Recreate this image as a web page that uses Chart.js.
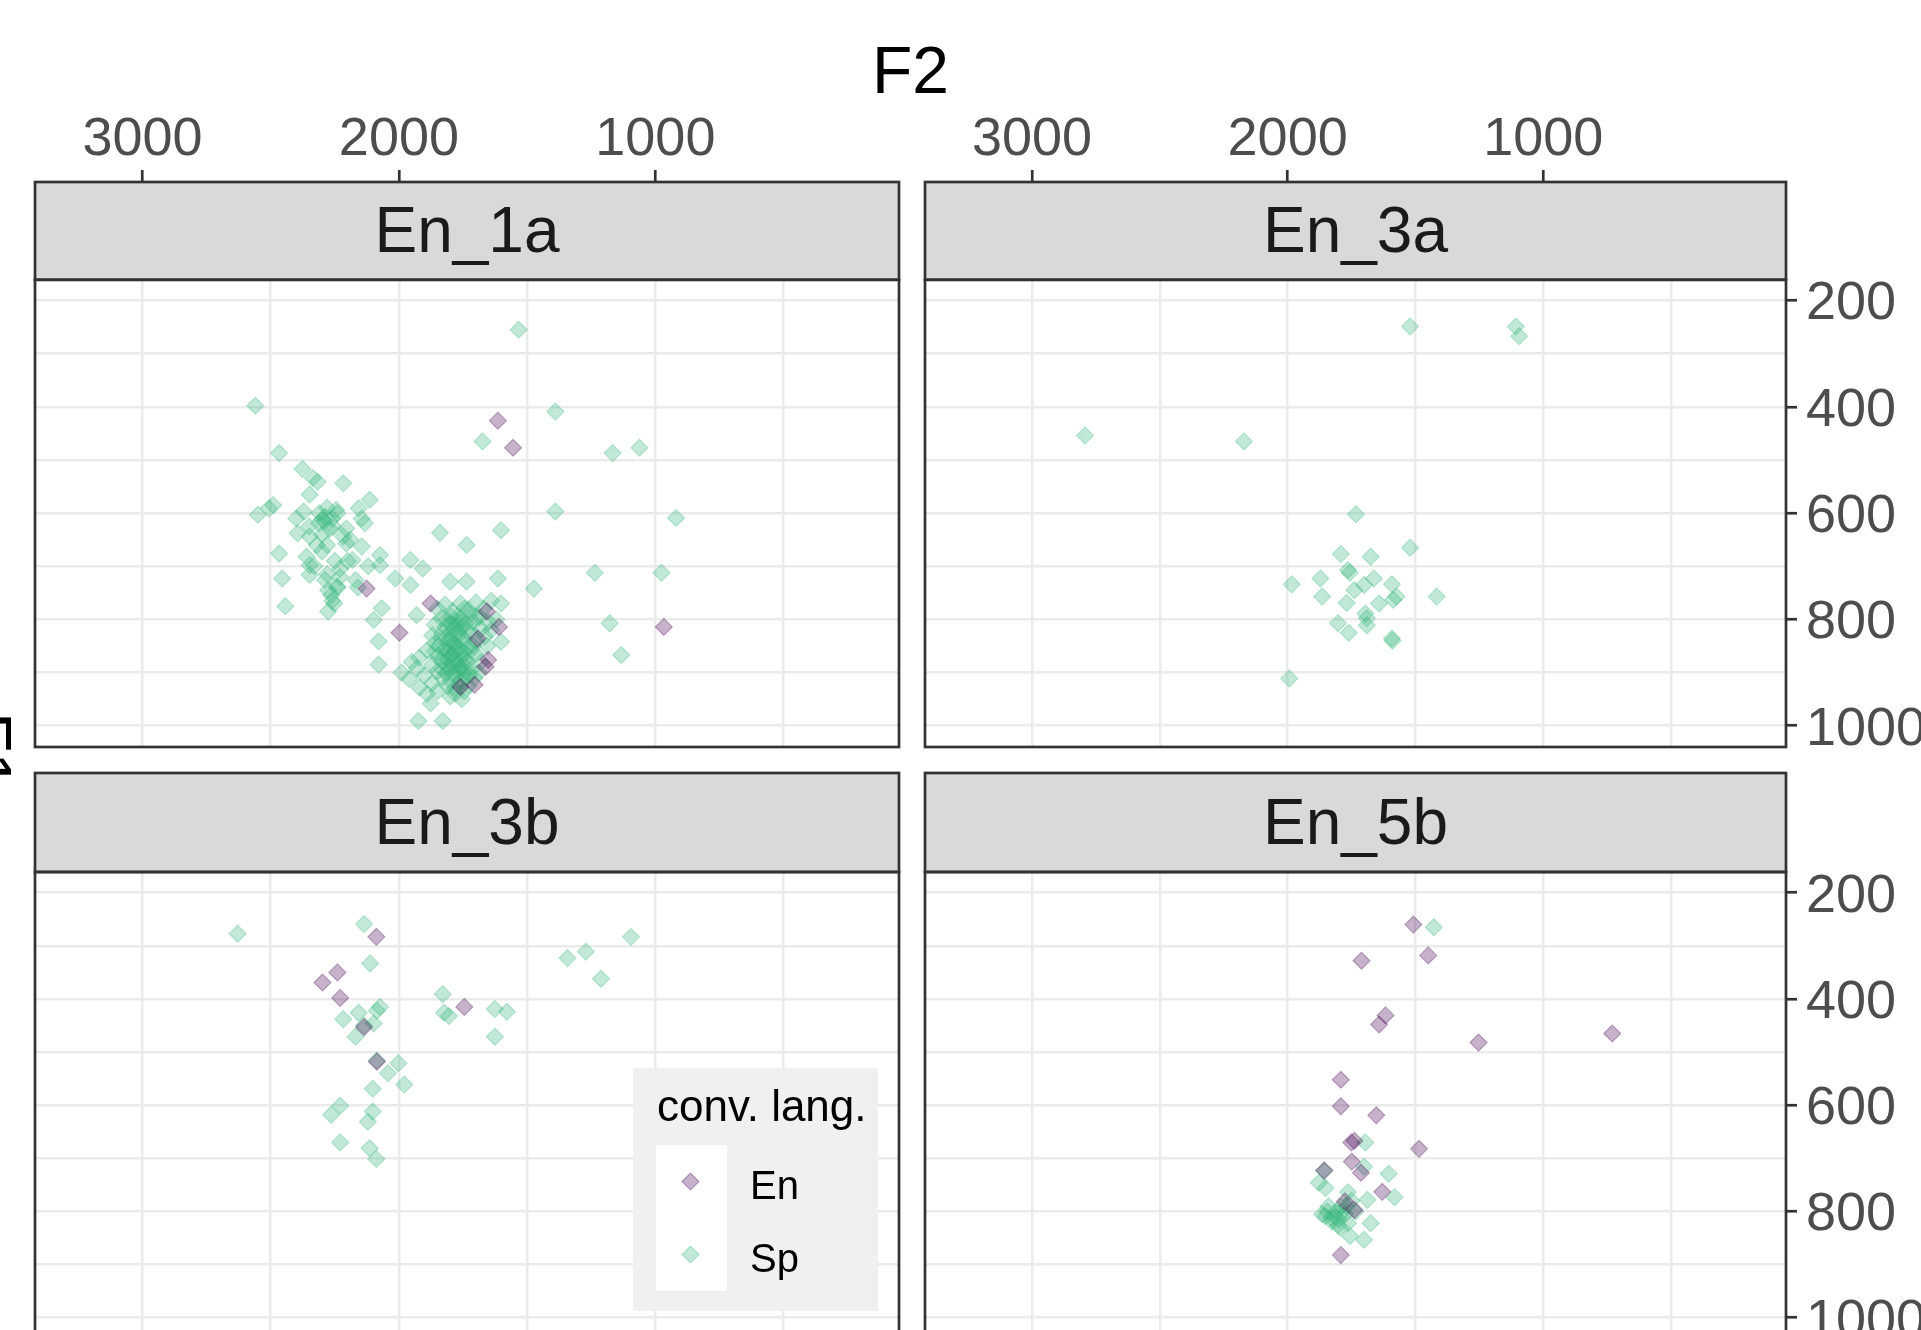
<!DOCTYPE html>
<html>
<head>
<meta charset="utf-8">
<script src="https://cdn.jsdelivr.net/npm/chart.js"></script>
<style>
  html, body { margin: 0; padding: 0; background: #fff; width: 1921px; height: 1330px; overflow: hidden; }
  .panel { position: absolute; }
  .lbl { position: absolute; font-family: "Liberation Sans", Arial, sans-serif; color: #000; white-space: nowrap; line-height: 1; font-size: 66px; }
</style>
</head>
<body>
<div class="lbl" style="left:0; top:37px; width:1821px; text-align:center;">F2</div>
<div class="lbl" style="left:21px; top:712px; transform: rotate(90deg); transform-origin: 0 0; z-index: 5;">F1</div>

<div class="panel" style="left:0; top:0;"><canvas id="p1" width="912" height="760"></canvas></div>
<div class="panel" style="left:912px; top:0;"><canvas id="p2" width="1009" height="760"></canvas></div>
<div class="panel" style="left:0; top:760px;"><canvas id="p3" width="912" height="600"></canvas></div>
<div class="panel" style="left:912px; top:760px;"><canvas id="p4" width="1009" height="600"></canvas></div>

<script>
"use strict";

const facets = ['En_1a', 'En_3a', 'En_3b', 'En_5b'];
const groups = ['En', 'Sp'];
const legendTitle = 'conv. lang.';

const f2Grid = [500, 1000, 1500, 2000, 2500, 3000];
const f2Labels = [1000, 2000, 3000];
const f1Grid = [200, 300, 400, 500, 600, 700, 800, 900, 1000];
const f1Labels = [200, 400, 600, 800, 1000];
const f2Range = [50, 3419];
const f1Range = [161, 1040];

// points are [F2, F1]
const en1aEn = [[1614,426],[1555,477],[2126,742],[1998,825],[967,814],[1876,770],[1657,785],[1610,814],
    [1652,876],[1662,889],[1705,923],[1760,927],[1693,836]];
const en1aSp = [[1533,255],[2560,398],[1390,409],[1674,465],[1167,487],[1062,477],[2467,487],
    [2376,517],[2336,534],[2317,541],[2217,544],[2348,565],[2114,575],[2157,591],[2490,585],[2507,591],
    [2550,603],[2371,597],[2288,607],[2300,612],[2312,619],[2245,594],[2145,610],[2133,619],[2205,629],
    [2255,626],[2395,638],[2348,644],[2217,644],[2467,676],[2360,682],[2300,672],[2145,663],[2205,657],
    [2074,679],[2181,688],[2348,698],[1955,688],[1907,704],[2074,698],[2455,723],[2348,716],[2288,726],
    [2229,720],[2169,726],[2014,723],[1955,735],[2241,738],[2264,754],[2276,745],[2330,700],[2280,660],
    [2240,600],[2190,650],[2120,700],[2400,610],
    [2290,615],[2270,630],[2300,640],[2310,600],[2260,610],[2250,690],[2230,705],[2280,715],[2320,660],
    [2350,625],[2240,740],[2260,765],[2200,690],[2160,740],[2280,590],
    [1800,729],[1736,729],[1614,723],[1840,637],[1602,632],[1736,660],[1390,597],[919,609],[1474,742],
    [1236,712],[976,712],[2443,775],[2276,785],[2252,770],[2067,779],[2098,801],[1931,792],[1602,770],
    [1178,807],[1133,867],[2079,841],[2079,885],[1602,842],[1876,958],[1924,991],[1829,991],
    [1640,765],[1700,768],[1760,770],[1820,772],[1670,780],[1730,782],[1790,785],[1850,780],[1700,795],
    [1760,798],[1815,800],[1650,805],[1740,808],[1790,812],[1860,810],[1680,818],[1720,822],[1770,825],
    [1830,826],[1750,835],[1800,838],[1700,840],[1665,832],
    [1860,845],[1780,848],[1730,852],[1820,855],[1890,858],[1760,862],[1700,865],[1800,868],[1850,870],
    [1920,872],[1740,875],[1780,878],[1830,880],[1680,880],
    [1870,885],[1810,888],[1760,890],[1930,892],[1720,895],[1850,898],[1790,902],[1900,905],[1830,910],
    [1960,912],[1760,915],[1870,920],[1810,925],[1920,928],[1850,935],[1890,940],[1780,940],[1990,900],
    [1950,880],
    [1760,805],[1775,812],[1790,820],[1805,828],[1770,832],[1755,842],[1785,845],[1800,852],[1815,860],
    [1765,855],[1745,862],[1790,865],[1810,875],[1770,885],[1795,890],[1750,900],[1775,905],[1740,910],
    [1800,915],[1765,925],[1785,930],[1745,935],[1725,905],[1735,880],[1720,860],[1710,850],[1735,820],
    [1755,815],[1780,800],[1800,808],[1820,815],[1835,835],[1845,850],[1825,870],[1810,840],[1780,860],
    [1760,875],[1790,880],[1815,900],[1830,895],[1740,890],[1770,895],[1755,950],[1800,945],[1730,925],
    [1705,910],[1690,900],[1860,860],[1710,805],[1725,790],[1745,780],[1795,795],[1835,798],[1870,830],
    [1655,850],[1640,820],[1620,800],[1685,795]];

const en3aEn = [];
const en3aSp = [[1521,249],[1107,249],[1094,267],[2793,454],[2171,465],[1733,602],[1521,665],[1792,677],
    [1675,682],[1764,707],[1757,712],[1872,723],[1663,723],[1984,734],[1592,734],[1701,735],[1739,745],
    [1865,757],[1574,757],[1587,763],[1417,757],[1769,769],[1642,770],[1696,789],[1690,798],[1803,807],
    [1690,811],[1761,825],[1592,836],[1590,840],[1994,911]];

const en3bEn = [[2088,283],[2240,350],[2298,369],[2229,398],[1745,415],[2136,453],[2086,518]];
const en3bSp = [[2629,277],[2136,259],[2112,333],[1095,283],[1271,311],[1343,323],[1212,362],[1829,391],
    [1626,419],[1579,424],[1824,426],[1805,432],[1626,471],[2074,415],[2086,422],[2157,426],[2217,438],
    [2098,446],[2136,450],[2169,471],[2086,516],[2002,521],[2043,540],[1979,561],[2102,569],[2229,601],
    [2264,618],[2102,612],[2121,631],[2229,670],[2114,681],[2088,701]];

const en5bEn = [[1508,260],[1711,328],[1450,318],[1617,431],[1642,448],[1253,482],[730,465],[1792,552],
    [1792,602],[1653,619],[1486,682],[1739,667],[1751,670],[1749,706],[1857,723],[1713,727],[1630,763],
    [1739,797],[1776,781],[1792,882]];
const en5bSp = [[1428,265],[1696,670],[1857,723],[1701,716],[1605,729],[1878,746],[1852,756],[1582,773],
    [1688,778],[1764,764],[1852,809],[1827,819],[1865,805],[1802,826],[1764,822],[1675,822],[1756,846],
    [1701,853],[1790,790],[1810,800],[1775,805],[1840,790],
    [1800,815],[1815,810],[1830,812],[1795,830],[1785,800],[1770,790],[1750,780],[1735,800],[1845,800]];

const groupColors = ['rgba(68, 1, 84, 0.3)', 'rgba(53, 183, 121, 0.3)'];

const fontFamily = '"Liberation Sans", Arial, sans-serif';
Chart.defaults.font.family = fontFamily;

// grey strip behind the facet title, borders round strip and panel
const stripPlugin = {
    id: 'strip',
    beforeDraw(chart) {
        const t = chart.titleBlock;
        const ctx = chart.ctx;
        ctx.save();
        ctx.fillStyle = '#d9d9d9';
        ctx.fillRect(t.left, t.top, t.width, t.height);
        ctx.restore();
    },
    afterDraw(chart) {
        const t = chart.titleBlock;
        const a = chart.chartArea;
        const ctx = chart.ctx;
        ctx.save();
        ctx.strokeStyle = '#333333';
        ctx.lineWidth = 2.7;
        ctx.strokeRect(t.left, t.top, t.width, t.height);
        ctx.strokeRect(a.left, a.top, a.right - a.left, a.bottom - a.top);
        ctx.restore();
    }
};

const legendPlugin = {
    id: 'convLegend',
    afterDraw(chart, args, opts) {
        if (!opts.show) return;
        const a = chart.chartArea;
        const ctx = chart.ctx;
        const bx = a.right - 266;
        const by = a.top + 196;
        ctx.save();
        ctx.fillStyle = '#f0f0f0';
        ctx.fillRect(bx, by, 245, 243);
        ctx.fillStyle = '#ffffff';
        ctx.fillRect(bx + 23, by + 77, 71, 146);
        ctx.fillStyle = '#000000';
        ctx.textBaseline = 'alphabetic';
        ctx.font = '44px ' + fontFamily;
        ctx.fillText(legendTitle, bx + 24, by + 53);
        ctx.font = '40px ' + fontFamily;
        groups.forEach((g, i) => {
            const ds = chart.data.datasets[i];
            ctx.fillStyle = ds.backgroundColor;
            ctx.strokeStyle = ds.borderColor;
            ctx.lineWidth = ds.borderWidth;
            Chart.helpers.drawPoint(ctx, {pointStyle: 'rectRot', radius: ds.pointRadius, borderWidth: ds.borderWidth},
                bx + 57.5, by + 113.5 + i * 73);
            ctx.fillStyle = '#000000';
            ctx.fillText(g, bx + 117, by + 131 + i * 73);
        });
        ctx.restore();
    }
};

function toXY(pts) {
    return pts.map(p => ({x: p[0], y: p[1]}));
}

function makePanel(canvasId, title, enPts, spPts, topRow, rightCol, showLegend) {
    const ctx = document.getElementById(canvasId).getContext('2d');
    const series = [enPts, spPts];
    return new Chart(ctx, {
        type: 'scatter',
        data: {
            datasets: groups.map((g, i) => ({
                label: g,
                data: toXY(series[i]),
                backgroundColor: groupColors[i],
                borderColor: groupColors[i],
                borderWidth: 1.2,
                pointStyle: 'rectRot',
                pointRadius: 8.5,
                pointHoverRadius: 8.5
            }))
        },
        options: {
            responsive: false,
            animation: false,
            devicePixelRatio: 1,
            events: [],
            layout: {
                autoPadding: false,
                padding: {left: rightCol ? 13 : 35, right: 0, top: 0, bottom: topRow ? 13 : 21}
            },
            scales: {
                x: {
                    type: 'linear',
                    position: 'top',
                    reverse: true,
                    min: f2Range[0],
                    max: f2Range[1],
                    afterBuildTicks: s => { s.ticks = f2Grid.map(v => ({value: v})); },
                    afterFit: s => {
                        s.height = topRow ? 182 : 13;
                        s.paddingLeft = 0; s.paddingRight = 0;
                    },
                    border: {display: false},
                    grid: {
                        color: '#ebebeb',
                        lineWidth: 2.5,
                        drawTicks: topRow,
                        tickLength: 12,
                        tickWidth: 2.7,
                        tickColor: c => (c.tick && f2Labels.includes(c.tick.value)) ? '#333333' : 'rgba(0,0,0,0)'
                    },
                    ticks: {
                        display: topRow,
                        autoSkip: false,
                        maxRotation: 0,
                        padding: 3,
                        color: '#4d4d4d',
                        font: {size: 54, lineHeight: 1},
                        callback: v => f2Labels.includes(v) ? String(v) : ''
                    }
                },
                y: {
                    type: 'linear',
                    position: 'right',
                    reverse: true,
                    min: f1Range[0],
                    max: f1Range[1],
                    afterBuildTicks: s => { s.ticks = f1Grid.map(v => ({value: v})); },
                    afterFit: s => {
                        s.width = rightCol ? 135 : 13;
                        s.paddingTop = 0; s.paddingBottom = 0;
                    },
                    border: {display: false},
                    grid: {
                        color: '#ebebeb',
                        lineWidth: 2.5,
                        drawTicks: rightCol,
                        tickLength: 11,
                        tickWidth: 2.7,
                        tickColor: c => (c.tick && f1Labels.includes(c.tick.value)) ? '#333333' : 'rgba(0,0,0,0)'
                    },
                    ticks: {
                        display: rightCol,
                        autoSkip: false,
                        padding: 9,
                        labelOffset: 4,
                        color: '#4d4d4d',
                        font: {size: 54, lineHeight: 1},
                        callback: v => f1Labels.includes(v) ? String(v) : ''
                    }
                }
            },
            plugins: {
                legend: {display: false},
                tooltip: {enabled: false},
                title: {
                    display: true,
                    text: title,
                    position: 'top',
                    fullSize: false,
                    weight: -1,
                    color: '#1a1a1a',
                    font: {size: 64, weight: 'normal', lineHeight: 1.2},
                    padding: topRow ? {top: 14, bottom: 7} : {top: 15, bottom: 7.2}
                },
                convLegend: {show: showLegend}
            }
        },
        plugins: [stripPlugin, legendPlugin]
    });
}

const chart1 = makePanel('p1', facets[0], en1aEn, en1aSp, true, false, false);
const chart2 = makePanel('p2', facets[1], en3aEn, en3aSp, true, true, false);
const chart3 = makePanel('p3', facets[2], en3bEn, en3bSp, false, false, true);
const chart4 = makePanel('p4', facets[3], en5bEn, en5bSp, false, true, false);
</script>
</body>
</html>
